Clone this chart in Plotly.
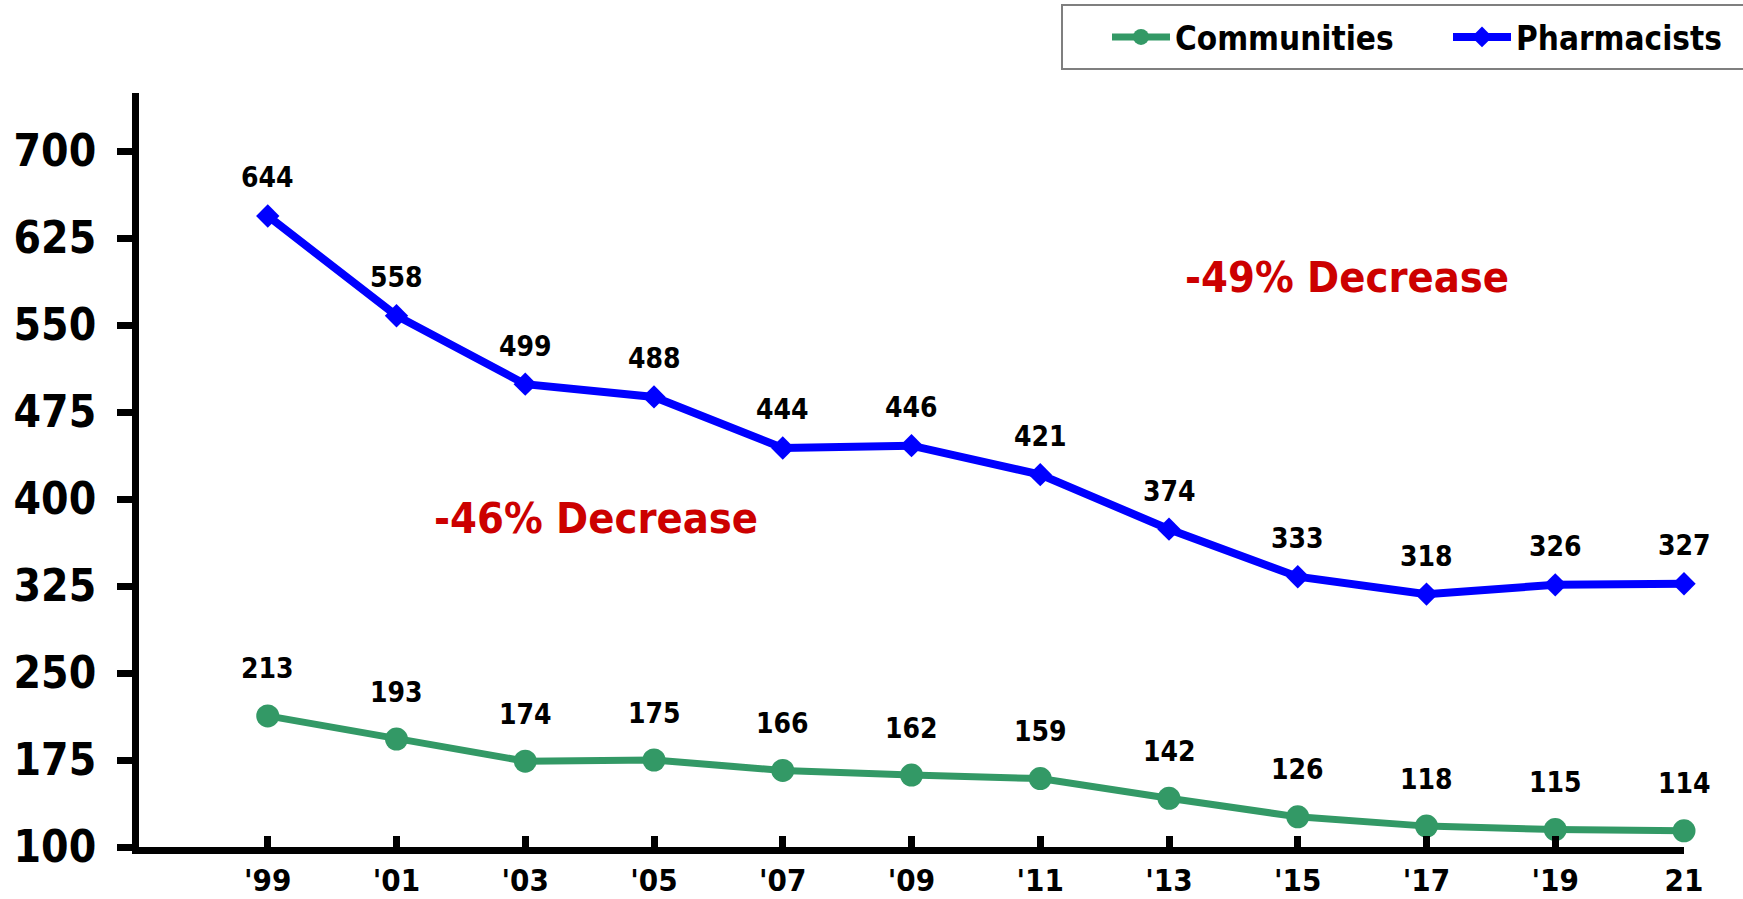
import plotly.graph_objects as go

years = ["'99", "'01", "'03", "'05", "'07", "'09", "'11", "'13", "'15", "'17", "'19", "21"]
communities = [213, 193, 174, 175, 166, 162, 159, 142, 126, 118, 115, 114]
pharmacists = [644, 558, 499, 488, 444, 446, 421, 374, 333, 318, 326, 327]
y_ticks = [100, 175, 250, 325, 400, 475, 550, 625, 700]

FONT = "DejaVu Sans Condensed, DejaVu Sans"
GREEN = "#339966"
BLUE = "#0000FF"
RED = "#CC0000"

xs = list(range(len(years)))

fig = go.Figure()
fig.add_trace(go.Scatter(
    x=xs, y=communities, name="Communities", mode="lines+markers",
    line=dict(color=GREEN, width=7),
    marker=dict(symbol="circle", size=23, color=GREEN),
    cliponaxis=False,
))
fig.add_trace(go.Scatter(
    x=xs, y=pharmacists, name="Pharmacists", mode="lines+markers",
    line=dict(color=BLUE, width=8),
    marker=dict(symbol="diamond", size=18, color=BLUE),
    cliponaxis=False,
))

annotations = []
for xi, v in zip(xs, pharmacists):
    annotations.append(dict(x=xi, y=v, text=str(v), showarrow=False, yshift=38,
                            font=dict(family=FONT, size=28, color="black", weight="bold")))
for xi, v in zip(xs, communities):
    annotations.append(dict(x=xi, y=v, text=str(v), showarrow=False, yshift=47,
                            font=dict(family=FONT, size=28, color="black", weight="bold")))
annotations.append(dict(x=2.55, y=384, text="-46% Decrease", showarrow=False,
                        font=dict(family=FONT, size=43, color=RED, weight="bold")))
annotations.append(dict(x=8.38, y=591, text="-49% Decrease", showarrow=False,
                        font=dict(family=FONT, size=43, color=RED, weight="bold")))

fig.update_layout(
    width=1743, height=899,
    margin=dict(l=139, r=59, t=93, b=52, autoexpand=False),
    plot_bgcolor="white", paper_bgcolor="white",
    showlegend=True,
    legend=dict(
        orientation="h", x=(1107 - 139) / 1545, xanchor="left",
        y=(847 - 37) / 754, yanchor="middle",
        font=dict(family=FONT, size=33, color="black", weight="bold"),
        bgcolor="rgba(0,0,0,0)", borderwidth=0,
        itemwidth=58,
        entrywidth=268, entrywidthmode="pixels",
    ),
    annotations=annotations,
    shapes=[dict(type="rect", xref="paper", yref="paper",
                 x0=(1062 - 139) / 1545, x1=(1760 - 139) / 1545,
                 y0=(847 - 69) / 754, y1=(847 - 5) / 754,
                 line=dict(color="#7f7f7f", width=2), fillcolor="rgba(0,0,0,0)")],
    xaxis=dict(
        range=[-1, 11], tickvals=xs, ticktext=years,
        showgrid=False, zeroline=False,
        showline=True, linecolor="black", linewidth=7,
        ticks="inside", ticklen=11, tickwidth=7, tickcolor="black",
        tickfont=dict(family=FONT, size=31, color="black", weight="bold"),
        ticklabelstandoff=0,
    ),
    yaxis=dict(
        range=[100, 750], tickvals=y_ticks,
        showgrid=False, zeroline=False,
        showline=True, linecolor="black", linewidth=7,
        ticks="outside", ticklen=15, tickwidth=7, tickcolor="black",
        tickfont=dict(family=FONT, size=44, color="black", weight="bold"),
        ticklabelstandoff=12,
    ),
)

fig.write_html("out.html", config={"displayModeBar": False},
               post_script="document.body.style.margin='0';")
